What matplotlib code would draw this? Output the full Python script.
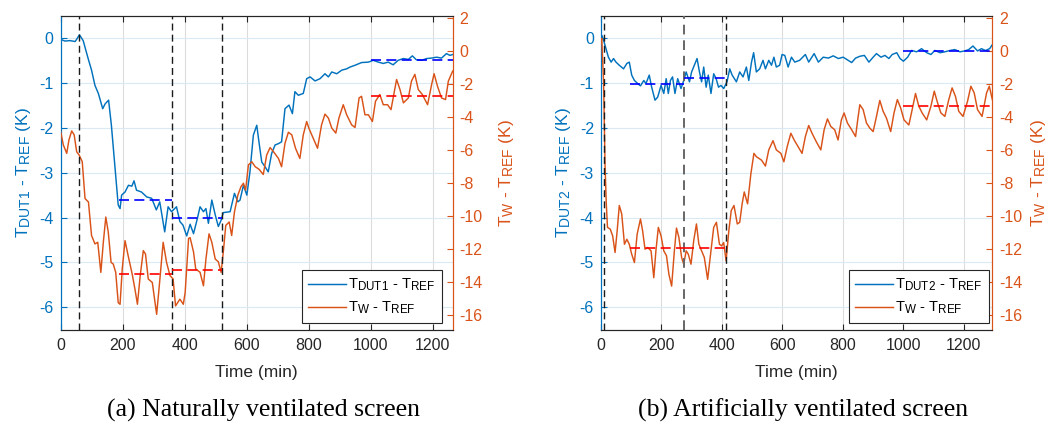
import matplotlib
matplotlib.use('Agg')
import matplotlib.pyplot as plt
from matplotlib.lines import Line2D
try:
    import matplotlib._mathtext as _mt
    _mt.SHRINK_FACTOR = 0.8
except Exception:
    pass

plt.rcParams['font.family'] = ['Liberation Sans', 'DejaVu Sans']
plt.rcParams['mathtext.fontset'] = 'custom'
plt.rcParams['mathtext.rm'] = 'Liberation Sans'
plt.rcParams['mathtext.it'] = 'Liberation Sans:italic'
plt.rcParams['mathtext.bf'] = 'Liberation Sans:bold'
plt.rcParams['mathtext.default'] = 'rm'
plt.rcParams['axes.unicode_minus'] = False

BLUE = '#0072BD'
ORANGE = '#D95319'
DARK = '#262626'

# ---------------- Panel (a): naturally ventilated screen ----------------
a_dut_t = [0, 14, 30, 47, 52, 61, 73, 89, 100, 111,
           122, 136, 144, 155, 164, 175, 186, 192, 197, 208,
           219, 230, 237, 245, 261, 278, 294, 309, 320, 336,
           347, 358, 374, 385, 395, 407, 418, 429, 440, 450,
           461, 469, 477, 488, 499, 509, 518, 525, 547, 561,
           572, 579, 590, 601, 611, 622, 633, 640, 649, 660,
           670, 681, 692, 703, 713, 724, 737, 748, 756, 767,
           783, 794, 805, 821, 837, 853, 864, 875, 891, 907,
           923, 934, 950, 971, 993, 1009, 1025, 1041, 1057, 1073,
           1089, 1106, 1122, 1135, 1148, 1165, 1181, 1197, 1213, 1229,
           1245, 1256, 1265]
a_dut_v = [-0.02, -0.06, -0.05, -0.07, -0.02, 0.08, -0.05, -0.45, -0.71, -1.05,
           -1.23, -1.57, -1.46, -1.38, -1.94, -2.83, -3.72, -3.80, -3.50, -3.43,
           -3.28, -3.30, -3.18, -3.39, -3.43, -3.54, -3.57, -3.83, -3.65, -4.32,
           -3.76, -3.87, -3.76, -4.09, -4.17, -4.41, -4.15, -4.36, -4.06, -3.76,
           -3.87, -3.80, -4.13, -3.61, -3.94, -4.20, -4.06, -3.89, -3.87, -3.46,
           -3.65, -3.61, -3.28, -3.50, -2.98, -2.16, -1.94, -2.31, -2.76, -2.87,
           -2.98, -2.57, -2.38, -2.35, -2.31, -1.57, -1.49, -1.68, -1.19, -1.27,
           -1.23, -0.90, -0.86, -0.95, -0.90, -0.79, -0.86, -0.75, -0.79, -0.71,
           -0.68, -0.64, -0.60, -0.54, -0.53, -0.49, -0.53, -0.56, -0.53, -0.59,
           -0.49, -0.45, -0.47, -0.39, -0.48, -0.49, -0.45, -0.44, -0.42, -0.44,
           -0.34, -0.38, -0.36]

a_w_t = [0, 9, 20, 27, 36, 44, 52, 60, 70, 79,
         90, 100, 111, 120, 130, 138, 146, 154, 163, 170,
         178, 186, 192, 199, 208, 218, 231, 240, 248, 257,
         267, 274, 283, 296, 310, 320, 331, 342, 353, 363,
         371, 385, 396, 402, 413, 418, 429, 436, 450, 461,
         469, 479, 488, 499, 509, 518, 526, 533, 544, 552,
         561, 572, 582, 590, 597, 606, 617, 628, 640, 654,
         665, 676, 687, 703, 713, 724, 735, 746, 758, 772,
         783, 794, 801, 815, 829, 842, 853, 864, 875, 888,
         898, 912, 923, 939, 950, 963, 971, 982, 993, 1006,
         1016, 1030, 1041, 1055, 1066, 1084, 1095, 1106, 1122, 1132,
         1143, 1154, 1167, 1184, 1197, 1205, 1216, 1229, 1242, 1251,
         1265]
a_w_v = [-4.84, -5.68, -6.19, -5.38, -4.83, -5.07, -6.09, -6.29, -6.70, -8.93,
         -9.14, -11.17, -11.68, -11.58, -13.41, -11.58, -10.05, -10.97, -12.80, -12.90,
         -13.41, -15.24, -15.34, -13.20, -11.48, -12.39, -13.50, -14.42, -15.34, -13.60,
         -12.09, -12.29, -13.81, -14.02, -15.95, -13.92, -11.58, -12.80, -13.60, -13.80,
         -15.44, -15.03, -15.34, -14.63, -11.35, -11.30, -12.17, -13.20, -13.40, -14.22,
         -12.60, -11.07, -11.58, -12.60, -12.76, -13.41, -11.98, -10.56, -10.35, -11.17,
         -9.74, -8.72, -8.21, -8.00, -8.42, -6.89, -6.70, -7.00, -7.15, -7.47,
         -6.29, -5.84, -6.09, -6.50, -7.00, -5.58, -4.91, -5.07, -5.88, -6.50,
         -5.07, -4.26, -4.66, -5.27, -5.88, -4.46, -3.81, -4.05, -4.66, -4.96,
         -4.05, -3.24, -3.85, -4.46, -4.62, -2.83, -2.73, -3.85, -3.85, -4.26,
         -3.03, -2.62, -3.24, -3.24, -3.54, -1.71, -2.32, -3.13, -2.83, -1.81,
         -1.40, -2.32, -2.62, -3.24, -2.02, -1.36, -2.12, -2.83, -2.93, -1.81,
         -1.20]

a_events = [60, 360, 520]
a_win_start = [190, 360, 1000]
a_win_end = [360, 520, 1265]
a_mean_dut = [-3.60, -4.02, -0.48]
a_mean_w = [-13.50, -13.27, -2.71]

# ---------------- Panel (b): artificially ventilated screen ----------------
b_dut_t = [0, 4, 9, 17, 25, 34, 42, 50, 61, 75,
           86, 94, 102, 111, 122, 131, 142, 149, 160, 168,
           179, 188, 199, 208, 216, 223, 230, 237, 245, 254,
           265, 274, 282, 293, 300, 309, 318, 326, 333, 340,
           348, 355, 364, 373, 381, 389, 397, 406, 417, 426,
           434, 448, 459, 470, 481, 489, 498, 505, 514, 525,
           536, 544, 555, 564, 572, 580, 591, 599, 608, 619,
           630, 641, 657, 676, 687, 705, 719, 735, 752, 768,
           785, 801, 815, 829, 842, 856, 871, 886, 900, 911,
           926, 939, 952, 963, 978, 989, 1000, 1014, 1027, 1044,
           1060, 1077, 1091, 1104, 1121, 1137, 1154, 1170, 1187, 1203,
           1216, 1230, 1245, 1258, 1271, 1285, 1294]
b_dut_v = [0.00, 0.06, -0.04, -0.23, -0.42, -0.53, -0.45, -0.53, -0.60, -0.68,
           -0.56, -0.53, -0.82, -0.94, -1.01, -1.06, -0.94, -1.01, -0.82, -1.09,
           -1.38, -1.31, -1.05, -1.23, -0.90, -1.23, -0.94, -0.86, -1.23, -0.90,
           -1.12, -0.94, -0.75, -0.97, -0.75, -0.60, -0.45, -0.75, -0.97, -0.64,
           -1.09, -0.82, -1.23, -0.79, -0.90, -1.09, -1.05, -1.12, -0.97, -0.68,
           -0.82, -0.97, -0.75, -0.86, -0.64, -0.94, -0.53, -0.32, -0.75, -0.68,
           -0.49, -0.68, -0.49, -0.60, -0.42, -0.64, -0.60, -0.36, -0.38, -0.64,
           -0.42, -0.53, -0.49, -0.36, -0.53, -0.34, -0.53, -0.42, -0.44, -0.39,
           -0.45, -0.42, -0.48, -0.54, -0.44, -0.40, -0.38, -0.53, -0.42, -0.34,
           -0.42, -0.38, -0.45, -0.36, -0.32, -0.45, -0.51, -0.42, -0.27, -0.30,
           -0.23, -0.32, -0.36, -0.27, -0.32, -0.30, -0.27, -0.25, -0.30, -0.28,
           -0.25, -0.17, -0.28, -0.23, -0.27, -0.23, -0.14]

b_w_t = [0, 3, 9, 14, 18, 22, 31, 39, 47, 54,
         61, 69, 78, 86, 94, 102, 111, 120, 131, 138,
         146, 155, 166, 175, 182, 190, 199, 208, 217, 225,
         234, 243, 250, 258, 267, 274, 282, 289, 298, 307,
         316, 324, 333, 342, 353, 364, 373, 382, 392, 399,
         406, 414, 423, 431, 440, 451, 459, 467, 474, 485,
         496, 506, 514, 531, 544, 555, 569, 580, 595, 605,
         616, 628, 639, 652, 665, 676, 687, 698, 712, 727,
         738, 749, 760, 773, 784, 795, 804, 815, 829, 842,
         849, 856, 867, 878, 889, 900, 911, 922, 933, 944,
         958, 969, 980, 991, 1002, 1018, 1029, 1040, 1051, 1062,
         1077, 1091, 1102, 1113, 1124, 1137, 1150, 1161, 1172, 1183,
         1197, 1212, 1223, 1234, 1245, 1260, 1275, 1284, 1294]
b_w_v = [0.50, 0.78, -1.82, -7.00, -9.25, -10.68, -10.78, -11.19, -12.20, -10.88,
         -9.35, -9.86, -11.70, -11.40, -11.70, -12.30, -12.81, -11.09, -10.17, -10.88,
         -12.00, -11.90, -12.10, -13.73, -12.10, -10.68, -11.19, -12.10, -12.40, -13.53,
         -14.24, -12.10, -10.72, -11.29, -12.50, -12.91, -12.10, -12.30, -12.91, -11.48,
         -10.47, -11.70, -12.10, -12.50, -13.83, -12.10, -10.68, -10.37, -11.70, -11.80,
         -11.60, -12.71, -10.88, -9.66, -9.35, -10.47, -10.37, -9.25, -8.53, -9.25,
         -7.41, -6.19, -6.39, -6.60, -6.96, -5.98, -5.42, -5.98, -6.19, -6.70,
         -5.78, -4.97, -5.38, -5.78, -6.19, -5.17, -4.50, -4.97, -5.48, -5.98,
         -4.76, -4.10, -4.56, -4.76, -5.38, -4.16, -3.74, -4.35, -4.76, -5.17,
         -4.16, -3.24, -3.54, -4.35, -4.66, -4.87, -3.95, -2.98, -3.64, -4.05,
         -4.87, -3.74, -2.93, -3.44, -4.16, -4.47, -3.54, -2.56, -3.33, -3.74,
         -4.16, -3.33, -2.42, -3.13, -3.74, -3.95, -2.93, -2.22, -2.73, -3.64,
         -3.95, -3.03, -2.12, -2.52, -3.54, -3.95, -2.52, -2.12, -2.93]

b_events = [10, 275, 415]
b_win_start = [95, 275, 1000]
b_win_end = [275, 410, 1294]
b_mean_dut = [-1.02, -0.89, -0.28]
b_mean_w = [-11.92, -11.92, -3.32]

x_ticks = [0, 200, 400, 600, 800, 1000, 1200]
left_ticks = [0, -1, -2, -3, -4, -5, -6]
right_ticks = [2, 0, -2, -4, -6, -8, -10, -12, -14, -16]
LEFT_LIM = (-6.5, 0.5)
RIGHT_LIM = (-16.87, 2.14)

FS = 11.5
LFS = 12.5
LEGFS = 10.5
DASH = (0, (6, 3.2))


def panel(ax, dut_t, dut_v, w_t, w_v, events, event_colors, ws, we, md, mw, xmax, dut_name,
          lpad_left, lpad_right):
    ax2 = ax.twinx()
    ax.plot(dut_t, dut_v, color=BLUE, lw=1.05, zorder=3)
    ax2.plot(w_t, w_v, color=ORANGE, lw=1.05, zorder=3)
    for e, c in zip(events, event_colors):
        ax2.axvline(e, color=c, ls=(0, (5, 3)), lw=1.0 if c != '#666666' else 1.4, zorder=4)
    for s, e, m in zip(ws, we, md):
        mr = (m - LEFT_LIM[0]) / (LEFT_LIM[1] - LEFT_LIM[0]) * (RIGHT_LIM[1] - RIGHT_LIM[0]) + RIGHT_LIM[0]
        ax2.plot([s, e], [mr, mr], color='#0000FF', ls=DASH, lw=1.2, zorder=5)
    for s, e, m in zip(ws, we, mw):
        ax2.plot([s, e], [m, m], color='#FF0000', ls=DASH, lw=1.2, zorder=5)

    ax.set_xlim(0, xmax)
    ax.set_ylim(*LEFT_LIM)
    ax2.set_ylim(*RIGHT_LIM)
    ax.set_xticks(x_ticks)
    ax.set_yticks(left_ticks)
    ax2.set_yticks(right_ticks)
    ax.grid(True, axis='x', color='#DCDCDC', lw=0.8)
    ax.grid(True, axis='y', color='#D9EAF5', lw=0.8)
    ax.set_axisbelow(True)

    ax.tick_params(axis='x', direction='in', top=True, length=4, width=0.8,
                   colors=DARK, labelsize=FS, pad=6)
    ax.tick_params(axis='y', direction='in', length=4, width=0.8,
                   colors=BLUE, labelsize=FS, pad=5)
    ax2.tick_params(axis='y', direction='in', length=4, width=0.8,
                    colors=ORANGE, labelsize=FS, pad=5)
    for a in (ax, ax2):
        a.spines['top'].set_color(DARK)
        a.spines['bottom'].set_color(DARK)
        a.spines['left'].set_color(BLUE)
        a.spines['right'].set_color(ORANGE)
        for sp in a.spines.values():
            sp.set_linewidth(0.8)

    ax.set_xlabel('Time (min)', fontsize=LFS, color=DARK, labelpad=9)
    ax.set_ylabel('T$_{%s}$ - T$_{REF}$ (K)' % dut_name, fontsize=LFS, color=BLUE,
                  labelpad=lpad_left)
    ax2.set_ylabel('T$_{W}$ - T$_{REF}$ (K)', fontsize=LFS, color=ORANGE, labelpad=lpad_right)

    handles = [Line2D([], [], color=BLUE, lw=1.05), Line2D([], [], color=ORANGE, lw=1.05)]
    labels = ['T$_{%s}$ - T$_{REF}$' % dut_name, 'T$_{W}$ - T$_{REF}$']
    return ax2, handles, labels


fig = plt.figure(figsize=(10.53, 4.25), dpi=100)
ax_a = fig.add_axes([0.0575, 0.2247, 0.3724, 0.7377])
ax_b = fig.add_axes([0.5706, 0.2247, 0.3718, 0.7377])

a2, ha, la = panel(ax_a, a_dut_t, a_dut_v, a_w_t, a_w_v, a_events, ['#1a1a1a'] * 3,
                   a_win_start, a_win_end, a_mean_dut, a_mean_w, 1265, 'DUT1', 4.5, 10)
b2, hb, lb = panel(ax_b, b_dut_t, b_dut_v, b_w_t, b_w_v, b_events,
                   ['#1a1a1a', '#666666', '#1a1a1a'],
                   b_win_start, b_win_end, b_mean_dut, b_mean_w, 1294, 'DUT2', 4.5, 5)

for axx, h, l, xa in ((a2, ha, la, 0.973), (b2, hb, lb, 0.991)):
    leg = axx.legend(h, l, loc='lower right', bbox_to_anchor=(xa, 0.022), fontsize=LEGFS,
                     frameon=True, fancybox=False, framealpha=1, edgecolor=DARK,
                     handlelength=2.6, handletextpad=0.15, borderpad=0.45,
                     labelspacing=0.45, borderaxespad=0)
    leg.get_frame().set_linewidth(0.8)
    leg.set_zorder(10)

fig.text(0.250, 0.034, '(a) Naturally ventilated screen', family='Liberation Serif',
         fontsize=18.5, ha='center', va='center', color='black')
fig.text(0.763, 0.034, '(b) Artificially ventilated screen', family='Liberation Serif',
         fontsize=18.5, ha='center', va='center', color='black')

fig.savefig('out.png', dpi=100)
